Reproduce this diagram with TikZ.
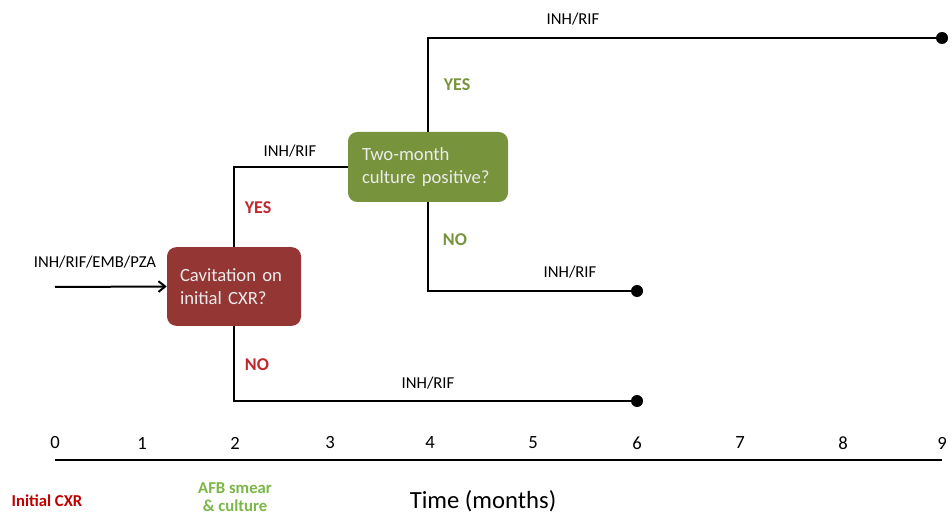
\documentclass[tikz,border=0pt]{standalone}
\usepackage{fontspec}
\setmainfont{Carlito}
\usetikzlibrary{arrows.meta}
\definecolor{boxred}{HTML}{943634}
\definecolor{boxgreen}{HTML}{77933C}
\definecolor{labred}{HTML}{C0272D}
\definecolor{cxrred}{HTML}{C00000}
\definecolor{afbgreen}{HTML}{7AB648}
\tikzset{
  decision/.style={rounded corners=7pt, text=white!92!black, align=left, font=\fontsize{14}{17}\selectfont, inner sep=0pt},
  branch/.style={draw, line width=1.5pt},
  enddot/.style={circle, fill=black, inner sep=0pt, minimum size=9pt},
  drug/.style={font=\fontsize{12.5}{15}\selectfont},
  answer/.style={font=\fontsize{13.5}{16}\selectfont\bfseries}
}
\begin{document}
\begin{tikzpicture}[x=0.75pt,y=-0.75pt]
\useasboundingbox (0,0) rectangle (952,516);
% decisions
\node[decision, fill=boxred, minimum width=100.5pt, minimum height=59pt, text width=81pt] (cav) at (234,286.5) {Cavitation on\\initial CXR?};
\node[decision, fill=boxgreen, minimum width=120pt, minimum height=52.5pt, text width=99pt] (cul) at (428,167) {Two-month\\culture positive?};

% end points
\coordinate (start) at (55,287);
\node[enddot] (end9) at (942,38) {};
\node[enddot] (end6a) at (637,291) {};
\node[enddot] (end6b) at (637,401) {};

\path[draw, line width=1.5pt, -{Straight Barb[length=5pt,width=8pt]}] (start) -- (cav.west);
\path[branch] (cav.north) |- (cul.west);
\path[branch] (cav.south) |- (end6b);
\path[branch] (cul.north) |- (end9);
\path[branch] (cul.south) |- (end6a);

% labels
\node[drug] (l0) at (95,262) {INH/RIF/EMB/PZA};
\node[drug] (l1) at (290,151) {INH/RIF};
\node[drug] (l2) at (428,383) {INH/RIF};
\node[drug] (l3) at (573,19) {INH/RIF};
\node[drug] (l4) at (570,272) {INH/RIF};
\node[answer, text=labred] (cavyes) at (258,208) {YES};
\node[answer, text=labred] (cavno) at (257,365) {NO};
\node[answer, text=boxgreen] (culyes) at (457,85) {YES};
\node[answer, text=boxgreen] (culno) at (455,240) {NO};

% time axis
\foreach \m/\x in {0/55,1/142,2/235,3/330,4/430,5/533,6/637,7/740,8/843,9/942}
  \node[font=\fontsize{14}{16}\selectfont] (t\m) at (\x,443) {\m};
\coordinate (axl) at (55,460);
\coordinate (axr) at (942,460);
\path[draw, line width=2pt] (axl) -- (axr);

\node[font=\fontsize{12.5}{14}\selectfont\bfseries, text=cxrred] (cxr) at (47,501) {Initial CXR};
\node[font=\fontsize{12.5}{14}\selectfont\bfseries, text=afbgreen, align=center, inner sep=0pt] (afb) at (235,497) {AFB smear\\\& culture};
\node[font=\fontsize{18.5}{22}\selectfont] (time) at (483,501) {Time (months)};
\end{tikzpicture}
\end{document}
